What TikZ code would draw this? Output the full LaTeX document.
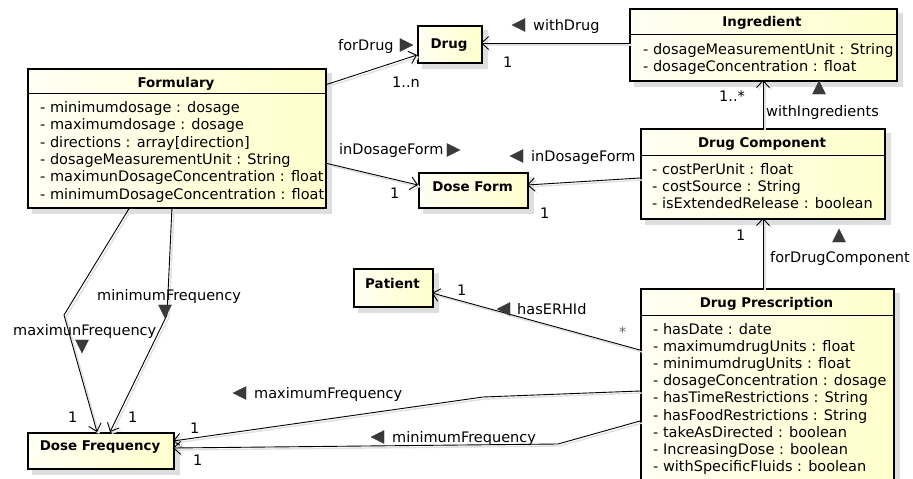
\documentclass[tikz,border=0pt]{standalone}
\usepackage{fontspec}
\setmainfont{DejaVu Sans}
\usetikzlibrary{arrows.meta,calc,shapes.geometric}
\definecolor{boxL}{RGB}{255,255,244}
\definecolor{boxR}{RGB}{255,255,204}
\definecolor{tri}{RGB}{58,58,58}
\pgfdeclarelayer{bg}
\pgfdeclarelayer{shd}
\pgfsetlayers{bg,shd,main}
\tikzset{
  box/.style={draw=black, line width=1.7pt, left color=boxL, right color=boxR, inner sep=0pt, anchor=north west},
  ttl/.style={font=\bfseries\fontsize{13.4}{15}\selectfont, anchor=base, inner sep=0pt},
  attr/.style={font=\fontsize{14.5}{16}\selectfont, anchor=base west, inner sep=0pt},
  lbl/.style={font=\fontsize{14.5}{16}\selectfont, anchor=base west, inner sep=0pt},
  tri/.style={isosceles triangle, isosceles triangle stretches, fill=tri, draw=black!80, line width=0.4pt,
    inner sep=0pt, minimum height=13pt, minimum width=13pt, shape border rotate=#1},
  divider/.style={draw=black, line width=0.9pt},
  assoc/.style={draw=black, line width=0.9pt, -{Straight Barb[length=7pt,width=13pt,line width=0.9pt]},
    preaction={draw=black!12, line width=1.4pt, transform canvas={shift={(2pt,-2pt)}}}}
}
\begin{document}
\begin{tikzpicture}[x=1pt,y=-1pt]
\begin{pgfonlayer}{bg}
\fill[white] (0,0) rectangle (913,479);
\end{pgfonlayer}
\clip (0,0) rectangle (913,479);
% boxes
\node[box, minimum width=298pt, minimum height=139pt] (form) at (27,68) {};
\node[box, minimum width=64pt, minimum height=37pt] (drug) at (417,25) {};
\node[box, minimum width=267pt, minimum height=72pt] (ingr) at (629,8) {};
\node[box, minimum width=244pt, minimum height=90pt] (dc) at (640,128) {};
\node[box, minimum width=109pt, minimum height=35pt] (dform) at (418,172) {};
\node[box, minimum width=79pt, minimum height=38pt] (pat) at (353,268) {};
\node[box, minimum width=253pt, minimum height=215pt] (dp) at (640,288) {};
\node[box, minimum width=146pt, minimum height=36pt] (df) at (27,432) {};
\begin{pgfonlayer}{shd}
\foreach \n in {form,drug,ingr,dc,dform,pat,dp,df}
  \fill[black!13] ([shift={(5pt,-5pt)}]\n.north west) rectangle ([shift={(5pt,-5pt)}]\n.south east);
\end{pgfonlayer}
% dividers
\draw[divider] ($(form.north west)+(0,25)$) -- ($(form.north east)+(0,25)$);
\draw[divider] ($(ingr.north west)+(0,26)$) -- ($(ingr.north east)+(0,26)$);
\draw[divider] ($(dc.north west)+(0,27)$) -- ($(dc.north east)+(0,27)$);
\draw[divider] ($(dp.north west)+(0,27)$) -- ($(dp.north east)+(0,27)$);
% titles
\node[ttl] (formt) at (176,87) {Formulary};
\node[ttl] (drugt) at (449,48) {Drug};
\node[ttl] (ingrt) at (762,27) {Ingredient};
\node[ttl] (dct) at (762,147.5) {Drug Component};
\node[ttl] (dformt) at (472.5,191) {Dose Form};
\node[ttl] (patt) at (392.5,288) {Patient};
\node[ttl] (dpt) at (766.5,307) {Drug Prescription};
\node[ttl] (dft) at (100,450) {Dose Frequency};
% attributes
\foreach \t [count=\i] in {{- minimumdosage : dosage},{- maximumdosage : dosage},{- directions : array[direction]},{- dosageMeasurementUnit : String},{- maximunDosageConcentration : float},{- minimumDosageConcentration : float}}
  \node[attr] (fa\i) at (40,{112.5+17.3*(\i-1)}) {\t};
\foreach \t [count=\i] in {{- dosageMeasurementUnit : String},{- dosageConcentration : float}}
  \node[attr] (ia\i) at (643,{54.5+17*(\i-1)}) {\t};
\foreach \t [count=\i] in {{- costPerUnit : float},{- costSource : String},{- isExtendedRelease : boolean}}
  \node[attr] (ca\i) at (652,{174.5+16.8*(\i-1)}) {\t};
\foreach \t [count=\i] in {{- hasDate : date},{- maximumdrugUnits : float},{- minimumdrugUnits : float},{- dosageConcentration : dosage},{- hasTimeRestrictions : String},{- hasFoodRestrictions : String},{- takeAsDirected : boolean},{- IncreasingDose : boolean},{- withSpecificFluids : boolean}}
  \node[attr] (pa\i) at (653,{334+17.2*(\i-1)}) {\t};
% bend coordinates
\coordinate (b1) at (64,315);
\coordinate (b2) at (167,315);
\coordinate (b3) at (483,397);
\coordinate (b4) at (558,444);
% connectors
\draw[assoc] ($(form.north west)+(298,17)$) -- ($(drug.north west)+(0,30)$);
\draw[assoc] ($(ingr.north west)+(0,35)$) -- ($(drug.north west)+(64,18)$);
\draw[assoc] ($(form.north west)+(298,95)$) -- ($(dform.north west)+(0,13)$);
\draw[assoc] ($(dc.north west)+(0,50)$) -- ($(dform.north west)+(109,13)$);
\draw[assoc] ($(dc.north west)+(123,0)$) -- ($(ingr.north west)+(134,72)$);
\draw[assoc] ($(dp.north west)+(123,0)$) -- ($(dc.north west)+(123,90)$);
\draw[assoc] ($(dp.north west)+(0,62)$) -- ($(pat.north west)+(79,25)$);
\draw[assoc] ($(form.north west)+(103,139)$) -- (b1) -- ($(df.north west)+(70,0)$);
\draw[assoc] ($(form.north west)+(145,139)$) -- (b2) -- ($(df.north west)+(83,0)$);
\draw[assoc] ($(dp.north west)+(0,103)$) -- (b3) -- ($(df.north west)+(146,9)$);
\draw[assoc] ($(dp.north west)+(0,133)$) -- (b4) -- ($(df.north west)+(146,16)$);
% labels and direction triangles
\node[lbl] (l1) at (338,50) {forDrug};
\node[tri=0] (t1) at (404,45) {};
\node[lbl] (m1) at (392,87) {1..n};
\node[tri=180] (t2) at (521,25) {};
\node[lbl] (l2) at (533,30) {withDrug};
\node[lbl] (m2) at (503,67) {1};
\node[lbl] (l3) at (339,154) {inDosageForm};
\node[tri=0] (t3) at (451,150) {};
\node[lbl] (m3) at (390,198) {1};
\node[tri=180] (t4) at (519,156) {};
\node[lbl] (l4) at (531,161) {inDosageForm};
\node[lbl] (m4) at (540,218) {1};
\node[lbl] (m5) at (719,101) {1..*};
\node[lbl] (l5) at (766,116) {withIngredients};
\node[tri=90] (t5) at (819,90) {};
\node[lbl] (m6) at (736,240) {1};
\node[tri=90] (t6) at (839,238) {};
\node[lbl] (l6) at (770,262) {forDrugComponent};
\node[lbl] (m7) at (457,295) {1};
\node[tri=180] (t7) at (506,309) {};
\node[lbl] (l7) at (517,314) {hasERHId};
\node[lbl, text=black!60] (m7b) at (619,337) {*};
\node[lbl] (l8) at (97,300) {minimumFrequency};
\node[tri=-90] (t8) at (165,309) {};
\node[lbl] (l9) at (13,335) {maximunFrequency};
\node[tri=-90] (t9) at (82,344) {};
\node[lbl] (m8) at (68,422) {1};
\node[lbl] (m9) at (128,422) {1};
\node[tri=180] (t10) at (242,393) {};
\node[lbl] (l10) at (254,398) {maximumFrequency};
\node[lbl] (m10) at (190,433) {1};
\node[tri=180] (t11) at (380,437) {};
\node[lbl] (l11) at (392,442) {minimumFrequency};
\node[lbl] (m11) at (193,465) {1};
\end{tikzpicture}
\end{document}
